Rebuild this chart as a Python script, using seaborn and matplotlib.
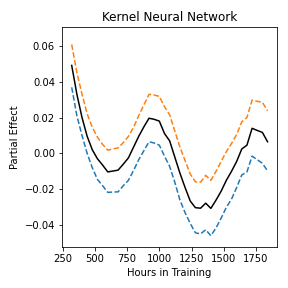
import pandas as pd
import matplotlib
matplotlib.use("Agg")
import matplotlib.pyplot as plt
import seaborn as sns

# Hours in training (grid of the partial-effect estimate)
hours = [320, 360, 400, 440, 480, 520, 560, 600, 640, 680,
         720, 760, 800, 840, 880, 920, 960, 1000, 1040, 1080,
         1120, 1160, 1200, 1240, 1280, 1320, 1360, 1400, 1440, 1480,
         1520, 1560, 1600, 1640, 1680, 1720, 1760, 1800, 1840]

effect = [0.049, 0.033, 0.020, 0.0095, 0.002, -0.003, -0.0065, -0.0103, -0.0098, -0.0093,
          -0.006, -0.0025, 0.0035, 0.0095, 0.0148, 0.0196, 0.0190, 0.0180, 0.0111, 0.0070,
          -0.002, -0.011, -0.019, -0.0265, -0.0302, -0.0305, -0.0277, -0.0306, -0.026, -0.021,
          -0.015, -0.010, -0.0045, 0.0025, 0.0046, 0.0140, 0.0128, 0.0117, 0.0065]

upper = [0.0607, 0.045, 0.033, 0.022, 0.0145, 0.009, 0.005, 0.0018, 0.0025, 0.0031,
         0.006, 0.0095, 0.0145, 0.021, 0.027, 0.0329, 0.0325, 0.0318, 0.0260, 0.0215,
         0.0125, 0.0035, -0.004, -0.0115, -0.0158, -0.0160, -0.0122, -0.0150, -0.010, -0.0045,
         0.001, 0.0055, 0.0105, 0.0176, 0.0200, 0.0297, 0.0290, 0.0285, 0.0237]

lower = [0.0368, 0.021, 0.010, 0.000, -0.008, -0.0145, -0.018, -0.0217, -0.0215, -0.0214,
         -0.018, -0.0150, -0.0095, -0.0035, 0.0015, 0.0065, 0.0058, 0.0046, -0.0015, -0.0072,
         -0.016, -0.026, -0.033, -0.039, -0.0442, -0.0448, -0.0425, -0.0458, -0.0415, -0.036,
         -0.030, -0.0255, -0.019, -0.012, -0.0103, -0.0015, -0.0035, -0.0055, -0.0097]

df = pd.DataFrame({"hours": hours, "effect": effect, "upper": upper, "lower": lower})

fig, ax = plt.subplots(figsize=(4, 4), dpi=72)

sns.lineplot(data=df, x="hours", y="effect", color="black", linewidth=1.5, ax=ax)
sns.lineplot(data=df, x="hours", y="lower", color="#1f77b4", linestyle="--", linewidth=1.5, ax=ax)
sns.lineplot(data=df, x="hours", y="upper", color="#ff7f0e", linestyle="--", linewidth=1.5, ax=ax)

ax.set_ylim(-0.052, 0.0702)
ax.set_title("Kernel Neural Network")
ax.set_xlabel("Hours in Training")
ax.set_ylabel("Partial Effect")

fig.subplots_adjust(left=0.215, right=0.963, bottom=0.143, top=0.905)
fig.savefig("out.png", dpi=72)
